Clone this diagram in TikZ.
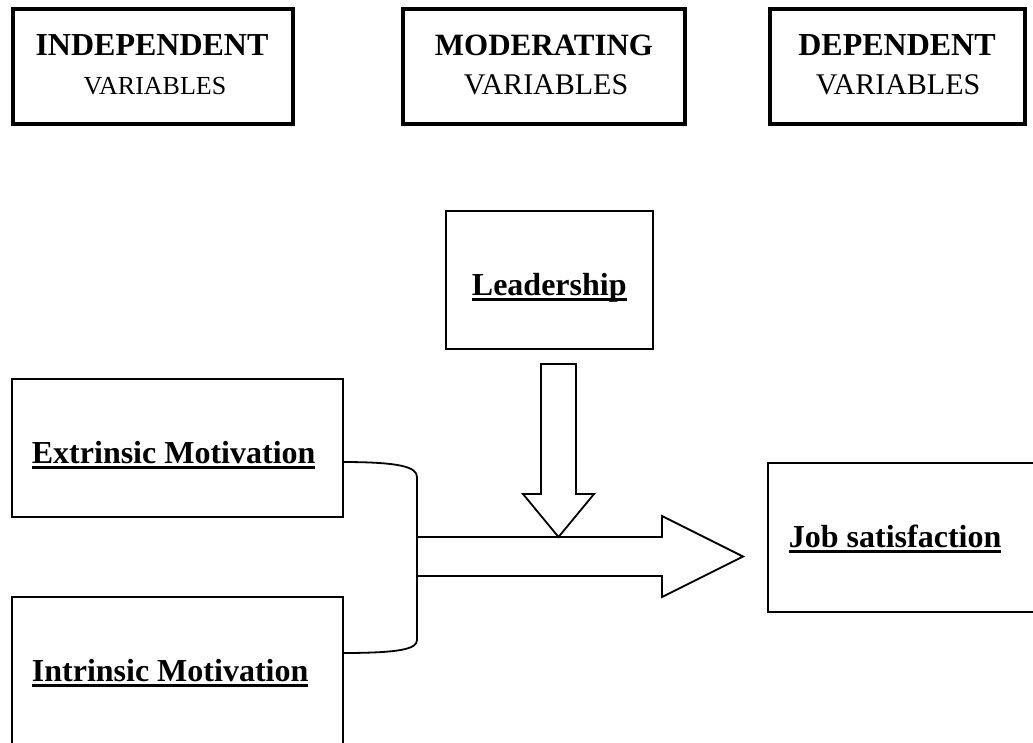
\documentclass[tikz,border=0pt]{standalone}
\usepackage{fontspec}
\setmainfont{Liberation Serif}
\newcommand{\ulbf}[1]{\setbox0\hbox{#1}\rlap{\rule[-6pt]{\wd0}{3pt}}\box0}

\tikzset{
	varbox/.style={draw, line width=4pt, minimum height=115, inner sep=0},
	factorbox/.style={draw, line width=1.8pt, inner sep=0, anchor=north west},
	headtext/.style={inner sep=0, anchor=base, font=\fontsize{32}{36}\selectfont\bfseries},
	subtext/.style={inner sep=0, anchor=base, font=\fontsize{30}{34}\selectfont},
	factortext/.style={inner sep=0, anchor=base west, font=\fontsize{32}{36}\selectfont\bfseries}
}

\begin{document}
\begin{tikzpicture}[x=1pt, y=-1pt, line width=1.8pt]
  \clip (0,0) rectangle (1033,742);
  % headings
  \node (indep) [varbox, minimum width=280] at (153,66.5) {};
  \node (indep_h) [headtext] at (152,55) {INDEPENDENT};
  \node (indep_v) [subtext, font=\fontsize{26}{30}\selectfont] at (155,94) {VARIABLES};
  \node (moder) [varbox, minimum width=282] at (544,66.5) {};
  \node (moder_h) [headtext, font=\fontsize{31}{35}\selectfont\bfseries] at (544,55) {MODERATING};
  \node (moder_v) [subtext] at (546,94) {VARIABLES};
  \node (dep) [varbox, minimum width=255] at (897.5,66.5) {};
  \node (dep_h) [headtext] at (897,55) {DEPENDENT};
  \node (dep_v) [subtext] at (898,94) {VARIABLES};
  % variables
  \node (lead) [factorbox, minimum width=207, minimum height=138] at (445,210) {};
  \node (lead_t) [factortext] at (471,295) {\ulbf{Leadership}};
  \node (ext) [factorbox, minimum width=331, minimum height=138] at (11,378) {};
  \node (ext_t) [factortext] at (31,463) {\ulbf{Extrinsic Motivation}};
  \node (intr) [factorbox, minimum width=331, minimum height=180] at (11,596) {};
  \node (intr_t) [factortext] at (31,681) {\ulbf{Intrinsic Motivation}};
  \node (job) [factorbox, minimum width=280, minimum height=149] at (767,462) {};
  \node (job_t) [factortext] at (788,547) {\ulbf{Job satisfaction}};
  % bracket joining the two motivations
  \coordinate (ext_out) at (342,462);
  \coordinate (intr_out) at (342,653);
  \coordinate (join) at (417,556.5);
  \draw (ext_out) .. controls (400,462) and (417,467) .. (417,477)
    -- (417,640) .. controls (417,649) and (400,653) .. (intr_out);
  % block arrows
  \coordinate (tip) at (743,556.5);
  \coordinate (mod_tip) at (558.5,537);
  \draw (join) ++(0,-19.5) -- (662,537) -- (662,516) -- (tip)
    -- (662,597) -- (662,576) -- (417,576) -- cycle;
  \draw (mod_tip) -- (523,494) -- (541,494) -- (541,364)
    -- (576,364) -- (576,494) -- (594,494) -- cycle;
\end{tikzpicture}
\end{document}
